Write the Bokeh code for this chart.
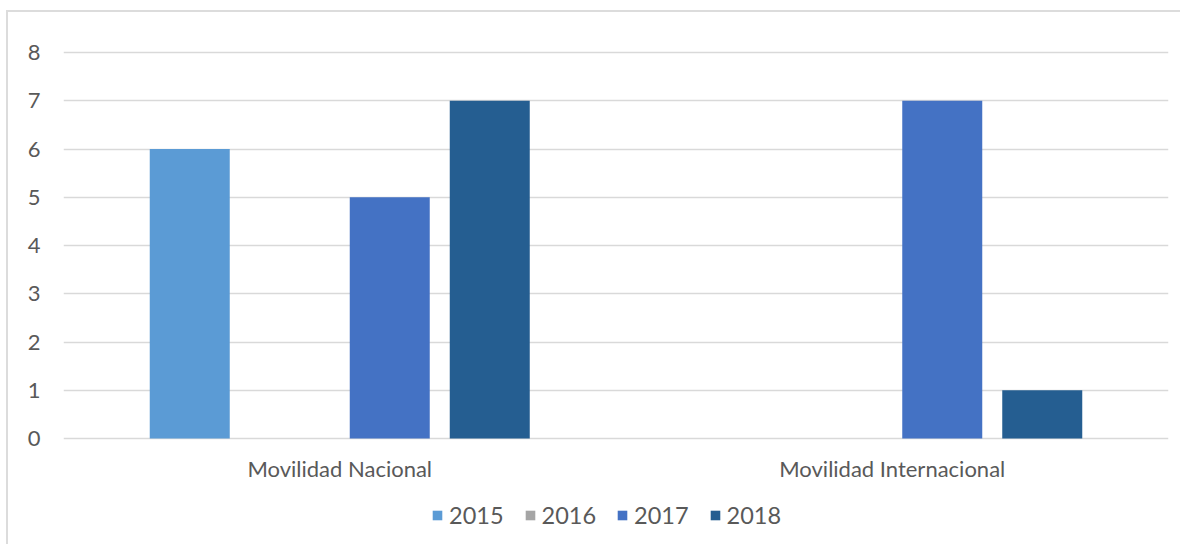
from bokeh.plotting import figure
from bokeh.models import (ColumnDataSource, FactorRange, Range1d, FixedTicker,
                          Legend, LegendItem)
from bokeh.transform import dodge
from bokeh.core.properties import value
from bokeh.embed import file_html
from bokeh.resources import INLINE

categories = ["Movilidad Nacional", "Movilidad Internacional"]
years = ["2015", "2016", "2017", "2018"]
v2015 = [6, 0]
v2016 = [0, 0]
v2017 = [5, 7]
v2018 = [7, 1]
colors = ["#5B9BD5", "#A5A5A5", "#4472C4", "#255E91"]
y_ticks = [0, 1, 2, 3, 4, 5, 6, 7, 8]

source = ColumnDataSource(data=dict(cat=categories, y2015=v2015, y2016=v2016,
                                    y2017=v2017, y2018=v2018))

FONT = "Lato"
TXT = "#595959"

# frame spans from the top gridline area to the bottom of the figure;
# the category labels and the legend live inside it, below the zero line
p = figure(x_range=FactorRange(*categories), y_range=Range1d(-2.2383, 8.0415),
           width=1174, height=534, output_backend="svg", toolbar_location=None,
           min_border_left=55, min_border_right=14, min_border_top=38,
           min_border_bottom=0)
p.styles = {"position": "relative", "left": "8px", "top": "12px",
            "box-shadow": "-2px -2px 0 0 #dcdcdc"}

p.outline_line_color = None
p.background_fill_color = "white"
p.border_fill_color = "white"

step = 0.181
width = 0.1448
offsets = [-1.5 * step, -0.5 * step, 0.5 * step, 1.5 * step]
items = []
for yr, col, off in zip(years, colors, offsets):
    r = p.vbar(x=dodge("cat", off, range=p.x_range), top="y" + yr, width=width,
               source=source, fill_color=col, line_color=None)
    items.append(LegendItem(label=yr, renderers=[r]))

# category labels (the x axis itself is hidden so they can sit in the frame)
p.text(x="cat", y=-0.622, text="cat", source=source, text_align="center",
       text_baseline="middle", text_font=value(FONT), text_color=TXT,
       text_font_size="22px")
p.xaxis.visible = False

p.xgrid.grid_line_color = None
p.ygrid.grid_line_color = "#d9d9d9"
p.ygrid.grid_line_width = 1.5
p.yaxis.ticker = FixedTicker(ticks=y_ticks)

ax = p.yaxis
ax.axis_line_color = None
ax.major_tick_line_color = None
ax.minor_tick_line_color = None
ax.major_tick_out = 0
ax.major_tick_in = 0
ax.minor_tick_out = 0
ax.minor_tick_in = 0
ax.major_label_text_font = FONT
ax.major_label_text_color = TXT
ax.major_label_text_font_size = "22px"
ax.major_label_standoff = 23

legend = Legend(items=items, orientation="horizontal", location=(368, 17),
                glyph_width=12, glyph_height=12, label_standoff=6, spacing=20,
                padding=0, margin=0, border_line_color=None,
                background_fill_alpha=0, label_text_font=FONT,
                label_text_color=TXT, label_text_font_size="23.5px")
p.add_layout(legend, "center")

open("out.html", "w").write(file_html(p, INLINE))
